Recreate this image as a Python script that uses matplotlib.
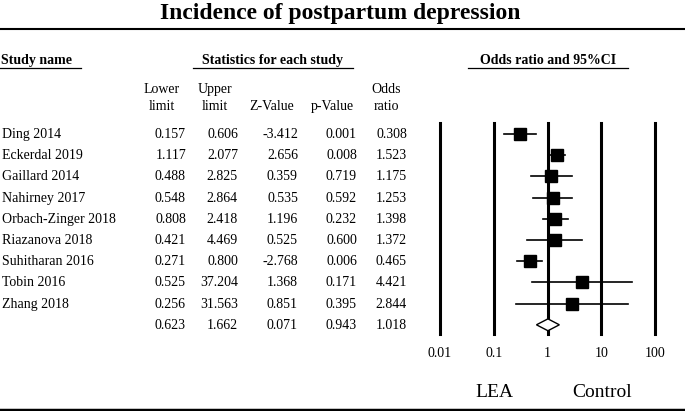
import numpy as np
import matplotlib
matplotlib.use('Agg')
import matplotlib.pyplot as plt

plt.rcParams['font.family'] = ['Liberation Serif', 'DejaVu Serif']

studies = ['Ding 2014', 'Eckerdal 2019', 'Gaillard 2014', 'Nahirney 2017',
           'Orbach-Zinger 2018', 'Riazanova 2018', 'Suhitharan 2016',
           'Tobin 2016', 'Zhang 2018']
lower = [0.157, 1.117, 0.488, 0.548, 0.808, 0.421, 0.271, 0.525, 0.256]
upper = [0.606, 2.077, 2.825, 2.864, 2.418, 4.469, 0.800, 37.204, 31.563]
zval = [-3.412, 2.656, 0.359, 0.535, 1.196, 0.525, -2.768, 1.368, 0.851]
pval = [0.001, 0.008, 0.719, 0.592, 0.232, 0.600, 0.006, 0.171, 0.395]
odds = [0.308, 1.523, 1.175, 1.253, 1.398, 1.372, 0.465, 4.421, 2.844]

# pooled estimate
sum_lower, sum_upper, sum_z, sum_p, sum_or = 0.623, 1.662, 0.071, 0.943, 1.018

ticks = [0.01, 0.1, 1, 10, 100]
tick_labels = ['0.01', '0.1', '1', '10', '100']

W, H = 685, 411
fig = plt.figure(figsize=(W / 100, H / 100), dpi=100)

# background axes in pixel units for the table
bg = fig.add_axes([0, 0, 1, 1])
bg.set_xlim(0, W)
bg.set_ylim(H, 0)
bg.axis('off')

bg.text(340, 19, 'Incidence of postpartum depression', fontsize=17,
        fontweight='bold', ha='center', va='baseline')
bg.plot([0, W], [29, 29], color='black', lw=1.5)
bg.plot([0, W], [409.5, 409.5], color='black', lw=2.5)

fs = 10
bg.text(1, 64, 'Study name', fontsize=fs, fontweight='bold', va='baseline')
bg.plot([0, 81], [68, 68], color='black', lw=0.9)
bg.text(273, 64, 'Statistics for each study', fontsize=fs, fontweight='bold',
        ha='center', va='baseline')
bg.plot([193, 353], [68, 68], color='black', lw=0.9)
bg.text(548, 64, 'Odds ratio and 95%CI', fontsize=fs, fontweight='bold',
        ha='center', va='baseline')
bg.plot([468, 628], [68, 68], color='black', lw=0.9)

col_right = [186, 238, 298, 357, 407]
col_head = [(162, 'Lower', 'limit'), (215, 'Upper', 'limit'),
            (272, '', 'Z-Value'), (332, '', 'p-Value'), (386, 'Odds', 'ratio')]
for cx, l1, l2 in col_head:
    if l1:
        bg.text(cx, 93, l1, fontsize=fs, ha='center', va='baseline')
    bg.text(cx, 110, l2, fontsize=fs, ha='center', va='baseline')

y0, dy = 134, 21.2
for i, name in enumerate(studies):
    y = y0 + dy * i + 4
    bg.text(2, y, name, fontsize=fs, va='baseline')
    vals = [lower[i], upper[i], zval[i], pval[i], odds[i]]
    for xr, v in zip(col_right, vals):
        bg.text(xr, y, '%.3f' % v, fontsize=fs, ha='right', va='baseline')
ys = y0 + dy * len(studies) + 4
for xr, v in zip(col_right, [sum_lower, sum_upper, sum_z, sum_p, sum_or]):
    bg.text(xr, ys, '%.3f' % v, fontsize=fs, ha='right', va='baseline')

# forest panel
px0, px1, py0, py1 = 440, 655, 123, 334
ax = fig.add_axes([px0 / W, 1 - py1 / H, (px1 - px0) / W, (py1 - py0) / H])
ax.set_xscale('log')
ax.set_xlim(0.01, 100)
ax.set_ylim((py1 - y0) / dy, (py0 - y0) / dy)
ax.patch.set_alpha(0)
for s in ax.spines.values():
    s.set_visible(False)
ax.set_yticks([])
ax.minorticks_off()
ax.set_xticks(ticks)
ax.set_xticklabels(tick_labels, fontsize=fs)
ax.tick_params(axis='x', length=0, pad=9)

for t in ticks:
    ax.axvline(t, color='black', lw=2.2, zorder=1, clip_on=False)

rows = np.arange(len(studies))
for i in rows:
    ax.plot([lower[i], upper[i]], [i, i], color='black', lw=1.2, zorder=2)
ax.plot(odds, rows, 's', color='black', ms=8, zorder=3)

n = len(studies)
dh = 0.28
ax.fill([sum_lower, sum_or, sum_upper, sum_or, sum_lower],
        [n, n - dh, n, n + dh, n], facecolor='white', edgecolor='black',
        lw=1.0, zorder=3)

bg.text(494, 397, 'LEA', fontsize=14, ha='center', va='baseline')
bg.text(602, 397, 'Control', fontsize=14, ha='center', va='baseline')

fig.savefig('out.png', dpi=100)
